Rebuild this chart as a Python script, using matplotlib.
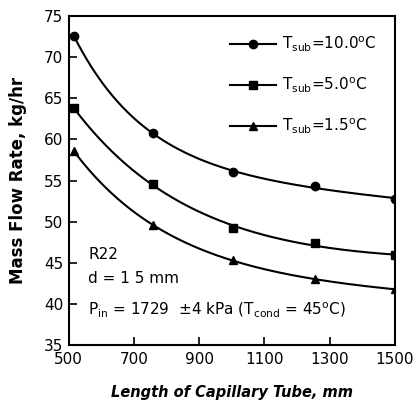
import numpy as np
import matplotlib
matplotlib.use("Agg")
import matplotlib.pyplot as plt

length_mm = [515, 758, 1003, 1255, 1500]
flow_t10 = [72.6, 60.8, 56.0, 54.3, 52.8]
flow_t5 = [63.8, 54.6, 49.2, 47.4, 45.9]
flow_t15 = [58.6, 49.6, 45.3, 43.0, 41.8]
labels = [r'T$_{\rm sub}$=10.0$^{\rm o}$C', r'T$_{\rm sub}$=5.0$^{\rm o}$C', r'T$_{\rm sub}$=1.5$^{\rm o}$C']
markers = ['o', 's', '^']
xticks = [500, 700, 900, 1100, 1300, 1500]
yticks = [35, 40, 45, 50, 55, 60, 65, 70, 75]

plt.rcParams['font.family'] = ['DejaVu Sans']
plt.rcParams['mathtext.default'] = 'regular'

fig = plt.figure(figsize=(4.17, 4.09), dpi=100)
ax = fig.add_axes([0.165, 0.156, 0.782, 0.805])


def smooth_fit(x, y, n=300):
    """Least-squares smooth trend line: y = a + b*x + c*exp(-(x-x0)/tau)."""
    x = np.asarray(x, float)
    y = np.asarray(y, float)
    best = None
    for tau in np.linspace(80, 800, 145):
        A = np.column_stack([np.ones_like(x), x, np.exp(-(x - x[0]) / tau)])
        coef, *_ = np.linalg.lstsq(A, y, rcond=None)
        err = np.sum((A @ coef - y) ** 2)
        if best is None or err < best[0]:
            best = (err, tau, coef)
    _, tau, coef = best
    xs = np.linspace(x[0], x[-1], n)
    ys = coef[0] + coef[1] * xs + coef[2] * np.exp(-(xs - x[0]) / tau)
    return xs, ys


for ys, m, lab in zip([flow_t10, flow_t5, flow_t15], markers, labels):
    sx, sy = smooth_fit(length_mm, ys)
    ax.plot(sx, sy, color='black', lw=1.5, zorder=2)
    ax.plot(length_mm, ys, linestyle='none', marker=m, color='black', ms=6, zorder=3)
    ax.plot([], [], color='black', lw=1.5, marker=m, ms=6, label=lab)

ax.set_xlim(500, 1500)
ax.set_ylim(35, 75)
ax.set_xticks(xticks)
ax.set_yticks(yticks)
ax.tick_params(direction='in', length=6, width=1.2, labelsize=11)
ax.tick_params(axis='x', pad=5)
ax.tick_params(axis='y', pad=4)
for s in ax.spines.values():
    s.set_linewidth(1.5)

ax.set_xlabel('Length of Capillary Tube, mm', fontsize=10.5, fontweight='bold', fontstyle='italic', labelpad=13)
ax.set_ylabel('Mass Flow Rate, kg/hr', fontsize=12, fontweight='bold', labelpad=12)

ax.legend(loc='upper right', frameon=False, fontsize=11, handlelength=3.0, handletextpad=0.4,
          labelspacing=1.45, borderaxespad=0.8)

ax.text(0.06, 0.262, 'R22', transform=ax.transAxes, fontsize=11)
ax.text(0.06, 0.19, 'd = 1 5 mm', transform=ax.transAxes, fontsize=11)
ax.text(0.06, 0.095, r'P$_{\rm in}$ = 1729  ±4 kPa (T$_{\rm cond}$ = 45$^{\rm o}$C)', transform=ax.transAxes, fontsize=11)

fig.savefig('out.png', dpi=100)
